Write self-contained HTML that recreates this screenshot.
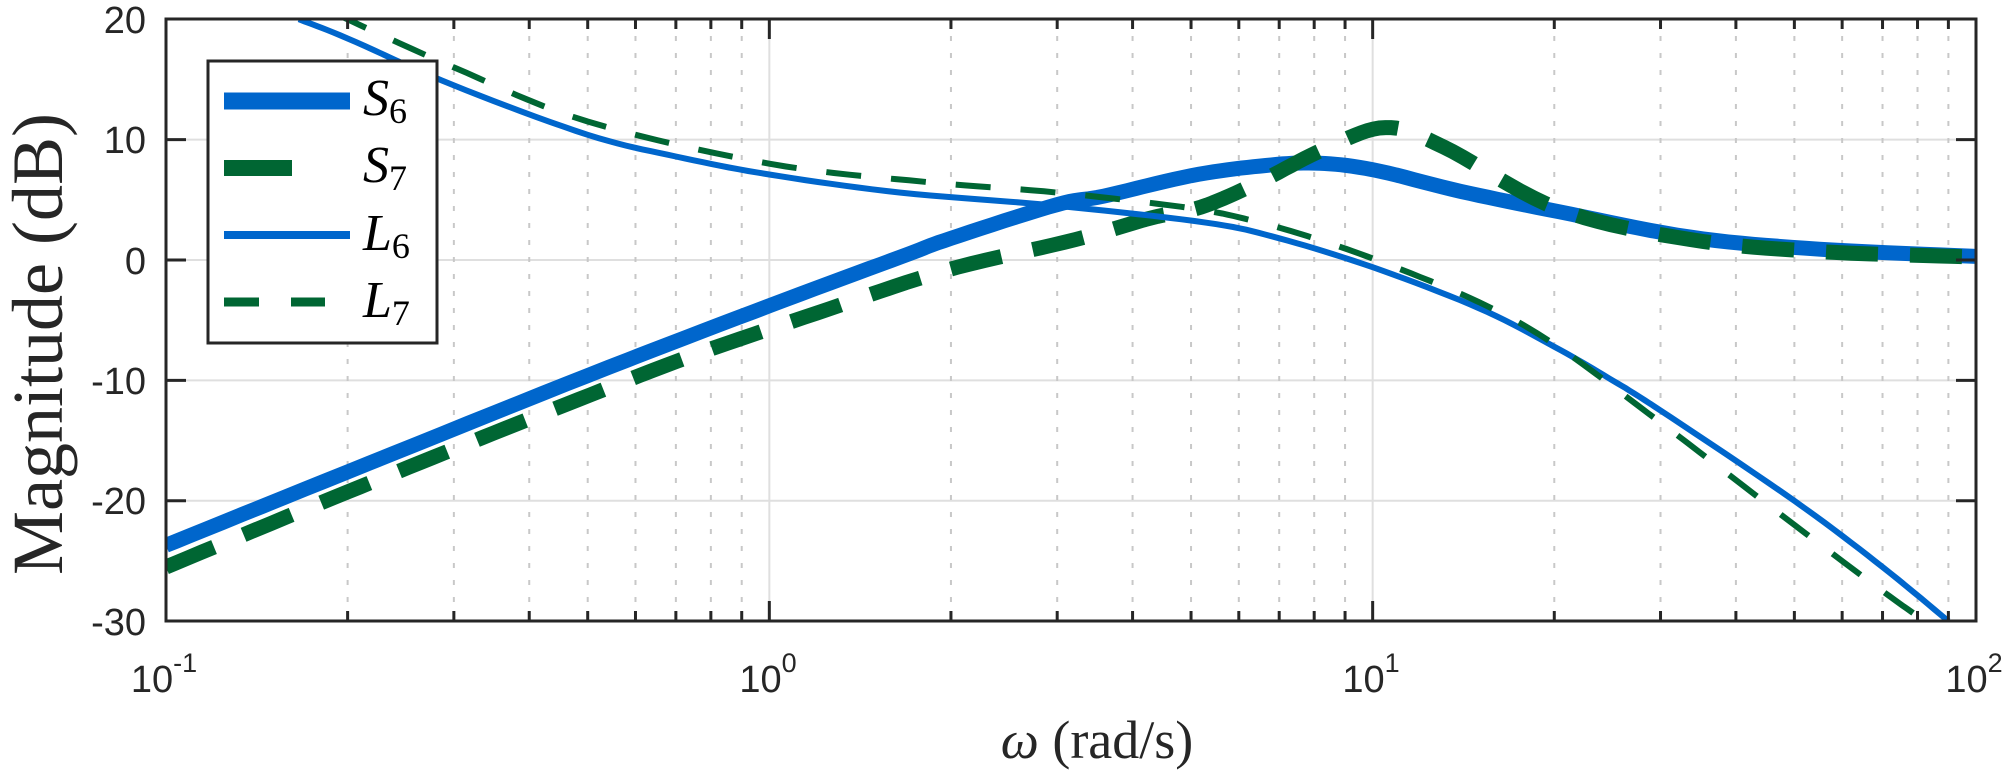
<!DOCTYPE html>
<html><head><meta charset="utf-8"><style>
html,body{margin:0;padding:0;background:#fff;}
svg{display:block;}
</style></head><body>
<svg id="s" width="2008" height="775" viewBox="0 0 2008 775" xmlns="http://www.w3.org/2000/svg">
<defs><clipPath id="c"><rect x="166" y="19" width="1810" height="602"/></clipPath></defs>
<g id="grid"></g>
<g id="curves" clip-path="url(#c)"></g>
<rect x="166" y="19" width="1810" height="602" fill="none" stroke="#262626" stroke-width="3"/>
<g id="ticks"></g>
<g font-family="Liberation Sans, sans-serif" font-size="38" fill="#262626" text-anchor="end">
<text x="146" y="33">20</text>
<text x="146" y="153">10</text>
<text x="146" y="274">0</text>
<text x="146" y="394">-10</text>
<text x="146" y="514">-20</text>
<text x="146" y="635">-30</text>
</g>
<g font-family="Liberation Sans, sans-serif" fill="#262626" text-anchor="middle">
<text x="164" y="692" font-size="38">10<tspan font-size="27" dy="-20">-1</tspan></text>
<text x="768" y="692" font-size="38">10<tspan font-size="27" dy="-20">0</tspan></text>
<text x="1371" y="692" font-size="38">10<tspan font-size="27" dy="-20">1</tspan></text>
<text x="1974" y="692" font-size="38">10<tspan font-size="27" dy="-20">2</tspan></text>
</g>
<text x="1097" y="758" font-family="Liberation Serif, serif" font-size="54" fill="#262626" text-anchor="middle"><tspan font-style="italic">ω</tspan> (rad/s)</text>
<text transform="translate(62,344) rotate(-90)" font-family="Liberation Serif, serif" font-size="72" fill="#262626" text-anchor="middle">Magnitude (dB)</text>
<rect x="208" y="61" width="229" height="282" fill="#fff" stroke="#262626" stroke-width="3"/>
<line x1="224" y1="101" x2="350" y2="101" stroke="#0066CC" stroke-width="17"/>
<line x1="224" y1="168" x2="292" y2="168" stroke="#006633" stroke-width="16"/>
<line x1="224" y1="235" x2="350" y2="235" stroke="#0066CC" stroke-width="8"/>
<line x1="224" y1="302" x2="325" y2="302" stroke="#006633" stroke-width="9" stroke-dasharray="35,32"/>
<g font-family="Liberation Serif, serif" fill="#000" font-size="52">
<text x="363" y="115" font-style="italic">S<tspan font-style="normal" font-size="36" dy="8">6</tspan></text>
<text x="363" y="182" font-style="italic">S<tspan font-style="normal" font-size="36" dy="8">7</tspan></text>
<text x="363" y="250" font-style="italic">L<tspan font-style="normal" font-size="36" dy="8">6</tspan></text>
<text x="363" y="317" font-style="italic">L<tspan font-style="normal" font-size="36" dy="8">7</tspan></text>
</g>
</svg>
<script>
var NS="http://www.w3.org/2000/svg";
function X(w){return 166+(Math.log10(w)+1)*603.33;}
function Y(d){return 260-d*12.04;}
function el(p,t,a){var e=document.createElementNS(NS,t);for(var k in a)e.setAttribute(k,a[k]);p.appendChild(e);return e;}
var g=document.getElementById('grid'),tk=document.getElementById('ticks');
for(var d=-20;d<=10;d+=10){el(g,'line',{x1:166,x2:1976,y1:Y(d),y2:Y(d),stroke:'#dfdfdf','stroke-width':2});
 el(tk,'line',{x1:166,x2:186,y1:Y(d),y2:Y(d),stroke:'#262626','stroke-width':3});
 el(tk,'line',{x1:1956,x2:1976,y1:Y(d),y2:Y(d),stroke:'#262626','stroke-width':3});}
for(var e=-1;e<=2;e++){var b=Math.pow(10,e);
 if(e>-1&&e<2){el(g,'line',{x1:X(b),x2:X(b),y1:19,y2:621,stroke:'#dfdfdf','stroke-width':2});
  el(tk,'line',{x1:X(b),x2:X(b),y1:621,y2:601,stroke:'#262626','stroke-width':3});
  el(tk,'line',{x1:X(b),x2:X(b),y1:19,y2:39,stroke:'#262626','stroke-width':3});}
 if(e<2)for(var m=2;m<=9;m++){var x=X(m*b);
  el(g,'line',{x1:x,x2:x,y1:19,y2:621,stroke:'#c8c8c8','stroke-width':2,'stroke-dasharray':'5,12'});
  el(tk,'line',{x1:x,x2:x,y1:621,y2:611,stroke:'#262626','stroke-width':3});
  el(tk,'line',{x1:x,x2:x,y1:19,y2:29,stroke:'#262626','stroke-width':3});}}
function path(pts){var P=pts.map(function(p){return [X(p[0]),Y(p[1])];});var s='M'+P[0][0].toFixed(1)+','+P[0][1].toFixed(1);
 for(var i=0;i<P.length-1;i++){var p0=P[Math.max(0,i-1)],p1=P[i],p2=P[i+1],p3=P[Math.min(P.length-1,i+2)];
  for(var t=0.1;t<=1.001;t+=0.1){var t2=t*t,t3=t2*t;var f=function(a,b,c,d){return 0.5*(2*b+(-a+c)*t+(2*a-5*b+4*c-d)*t2+(-a+3*b-3*c+d)*t3);};
   s+=' L'+f(p0[0],p1[0],p2[0],p3[0]).toFixed(1)+','+f(p0[1],p1[1],p2[1],p3[1]).toFixed(1);}}
 return s;}
var cv=document.getElementById('curves');
var S6=[[0.1,-23.7],[0.2,-17.6],[0.5,-9.6],[1,-3.8],[1.65,0.25],[2,1.8],[3,4.6],[3.58,5.3],[5,7.0],[6.5,7.8],[8,8.05],[10,7.5],[14,5.7],[20.4,4],[33.6,1.9],[55,0.9],[100,0.3]];
var S7=[[0.1,-25.5],[0.18,-20.2],[0.29,-16],[0.46,-12],[0.74,-8],[1.2,-4.4],[1.95,-0.9],[3.22,1.7],[4.3,3.5],[5.2,4.4],[6.5,6.5],[8.3,9.2],[10.5,11],[13.1,9.4],[20.4,4.2],[33.6,1.7],[55,0.7],[100,0.25]];
var L6=[[0.166,20],[0.2,18.4],[0.3,14.5],[0.5,10.4],[0.7,8.6],[1,7.1],[1.65,5.6],[3,4.5],[5.3,3.1],[7,1.8],[10,-0.6],[15,-4],[20,-7.2],[24.6,-9.8],[30,-12.5],[50,-20],[70,-25.5],[90,-30]];
var L7=[[0.19,20.5],[0.3,16],[0.5,11.5],[1,8],[1.8,6.5],[3,5.6],[5,4.3],[6.4,3.2],[8,1.8],[10.4,-0.2],[15,-3.5],[20,-7],[30,-13.5],[50,-22],[70,-27.5],[85,-30.5]];
el(cv,'path',{d:path(S6),fill:'none',stroke:'#0066CC','stroke-width':15});
el(cv,'path',{d:path(S7),fill:'none',stroke:'#006633','stroke-width':15,'stroke-dasharray':'52,32'});
el(cv,'path',{d:path(L6),fill:'none',stroke:'#0066CC','stroke-width':6});
el(cv,'path',{d:path(L7),fill:'none',stroke:'#006633','stroke-width':6,'stroke-dasharray':'35,30'});
</script>
</body></html>
